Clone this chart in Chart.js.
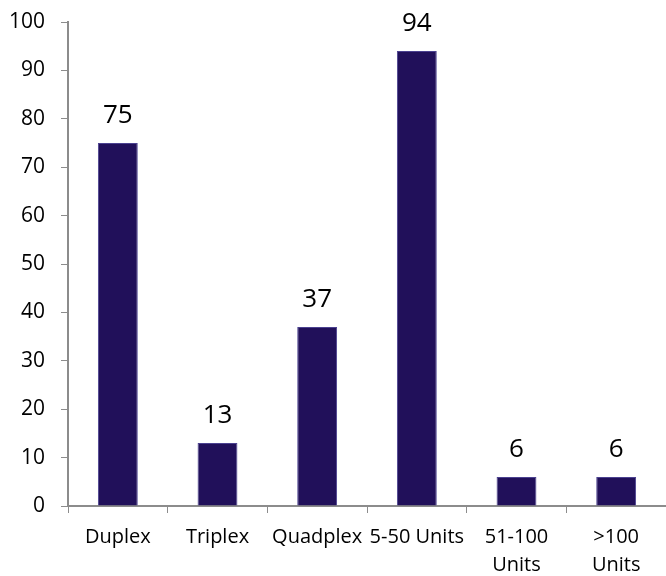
<!DOCTYPE html>
<html>
<head>
<meta charset="utf-8">
<script src="https://cdn.jsdelivr.net/npm/chart.js@4"></script>
<style>
  body { margin: 0; background: #fff; }
</style>
</head>
<body>
<canvas id="chart" width="666" height="576"></canvas>
<script>
const categories = ['Duplex', 'Triplex', 'Quadplex', '5-50 Units', ['51-100', 'Units'], ['>100', 'Units']]
const counts = [75, 13, 37, 94, 6, 6]
const yTicks = [0, 10, 20, 30, 40, 50, 60, 70, 80, 90, 100]

const ctx = document.getElementById('chart')
const axisColor = '#8c8c8c'
const fontFamily = '"Open Sans", "Noto Sans", sans-serif'

// draws the value above each bar
const valueLabels = {
    id: 'valueLabels',
    afterDatasetsDraw(chart) {
        const c = chart.ctx
        const meta = chart.getDatasetMeta(0)
        c.save()
        c.font = `26px ${fontFamily}`
        c.fillStyle = '#000'
        c.textAlign = 'center'
        c.textBaseline = 'bottom'
        meta.data.forEach((bar, i) => {
            c.fillText(counts[i], bar.x, bar.y - 14)
        })
        c.restore()
    }
}

new Chart(ctx, {
    type: 'bar',
    data: {
        labels: categories,
        datasets: [{
            data: counts,
            backgroundColor: '#21105a',
            borderColor: '#4b4190',
            borderWidth: 1,
            barPercentage: 0.4,
            categoryPercentage: 1
        }]
    },
    options: {
        responsive: false,
        animation: false,
        layout: { padding: { top: 22, right: 0, left: 0, bottom: 0 } },
        plugins: {
            legend: { display: false },
            tooltip: { enabled: false }
        },
        scales: {
            x: {
                afterFit: axis => { axis.height = 70 },
                grid: { drawOnChartArea: false, color: axisColor, tickLength: 7, offset: true },
                border: { color: axisColor, width: 2 },
                ticks: {
                    color: '#000',
                    font: { family: fontFamily, size: 20, lineHeight: 1.4 },
                    autoSkip: false,
                    maxRotation: 0,
                    padding: 10
                }
            },
            y: {
                min: 0,
                max: 100,
                afterFit: axis => {
                    axis.width = 68
                    axis.paddingTop = 0
                    axis.paddingBottom = 0
                },
                afterBuildTicks: axis => { axis.ticks = yTicks.map(v => ({ value: v })) },
                grid: { drawOnChartArea: false, color: axisColor, tickLength: 7 },
                border: { color: axisColor, width: 2 },
                ticks: {
                    color: '#000',
                    font: { family: fontFamily, size: 21 },
                    padding: 16
                }
            }
        }
    },
    plugins: [valueLabels]
})
</script>
</body>
</html>
